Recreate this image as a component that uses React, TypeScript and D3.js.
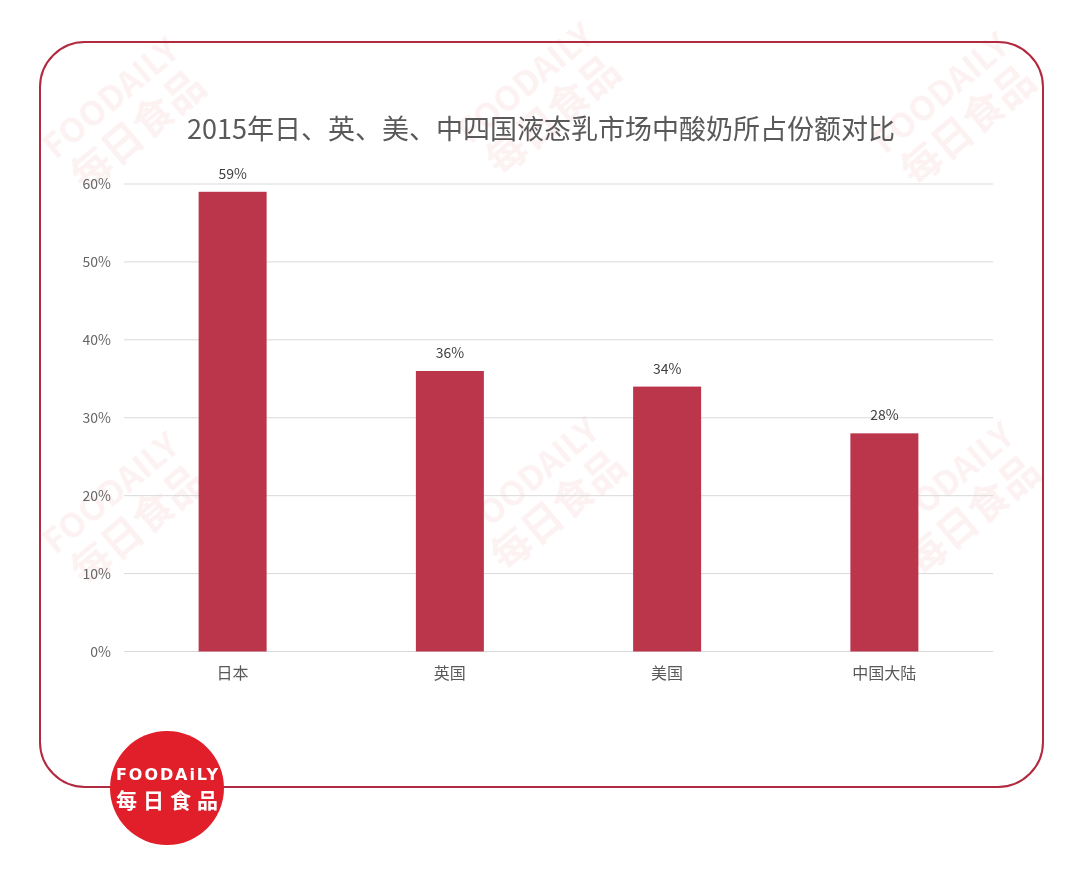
import React, { useEffect, useRef } from 'react';
import * as d3 from 'd3';

const categories = ['日本', '英国', '美国', '中国大陆'];
const shares = [59, 36, 34, 28];
const yTicks = [0, 10, 20, 30, 40, 50, 60];
const title = '2015年日、英、美、中四国液态乳市场中酸奶所占份额对比';

const watermarks = [
  [125, 115], [540, 100], [955, 110], [125, 510], [545, 495], [960, 500],
];

export default function App() {
  const svgRef = useRef<SVGSVGElement>(null);

  useEffect(() => {
    if (!svgRef.current) return;
    const svg = d3.select(svgRef.current);
    svg.selectAll('*').remove();

    const width = 1080;
    const height = 869;
    const font = '"Noto Sans CJK SC", "Liberation Sans", sans-serif';

    svg.attr('width', width).attr('height', height);
    svg.append('rect').attr('width', width).attr('height', height).attr('fill', '#fff');

    // faint watermark
    const wm = svg.append('g').attr('opacity', 0.06);
    watermarks.forEach(([x, y]) => {
      const g = wm.append('g').attr('transform', `translate(${x},${y}) rotate(-40)`);
      g.append('text').attr('text-anchor', 'middle').attr('y', -10)
        .attr('font-family', font).attr('font-size', 34).attr('font-weight', 700)
        .attr('fill', '#d8202c').text('FOODAILY');
      g.append('text').attr('text-anchor', 'middle').attr('y', 34)
        .attr('font-family', font).attr('font-size', 40).attr('font-weight', 700)
        .attr('fill', '#d8202c').text('每日食品');
    });

    // frame
    svg.append('rect')
      .attr('x', 40).attr('y', 42).attr('width', 1003).attr('height', 745)
      .attr('rx', 45).attr('ry', 45)
      .attr('fill', 'none').attr('stroke', '#b22a40').attr('stroke-width', 2);

    const margin = { top: 184, left: 124, right: 87, bottom: 218 };
    const innerW = width - margin.left - margin.right;
    const innerH = height - margin.top - margin.bottom;

    const x = d3.scaleBand().domain(categories).range([0, innerW]).padding(0);
    const y = d3.scaleLinear().domain([0, 60]).range([innerH + 0.5, 0]);
    const barW = x.bandwidth() * 0.313;

    const g = svg.append('g').attr('transform', `translate(${margin.left},${margin.top})`);

    // title
    svg.append('text')
      .attr('x', 541).attr('y', 139)
      .attr('text-anchor', 'middle')
      .attr('font-family', font).attr('font-size', 27)
      .attr('fill', '#595959')
      .text(title);

    // grid + y labels
    g.selectAll('.grid').data(yTicks).enter().append('line')
      .attr('x1', 0).attr('x2', innerW)
      .attr('y1', (d) => y(d)).attr('y2', (d) => y(d))
      .attr('stroke', '#d9d9d9').attr('stroke-width', 1);

    g.selectAll('.ylab').data(yTicks).enter().append('text')
      .attr('x', -13).attr('y', (d) => y(d) + 5)
      .attr('text-anchor', 'end')
      .attr('font-family', font).attr('font-size', 14)
      .attr('fill', '#666')
      .text((d) => `${d}%`);

    // bars
    g.selectAll('.bar').data(shares).enter().append('rect')
      .attr('x', (d, i) => (x(categories[i]) || 0) + x.bandwidth() / 2 - barW / 2)
      .attr('y', (d) => y(d))
      .attr('width', barW)
      .attr('height', (d) => y(0) - y(d))
      .attr('fill', '#bc364b');

    // value labels
    g.selectAll('.val').data(shares).enter().append('text')
      .attr('x', (d, i) => (x(categories[i]) || 0) + x.bandwidth() / 2)
      .attr('y', (d) => y(d) - 13)
      .attr('text-anchor', 'middle')
      .attr('font-family', font).attr('font-size', 14)
      .attr('fill', '#404040')
      .text((d) => `${d}%`);

    // category labels
    g.selectAll('.cat').data(categories).enter().append('text')
      .attr('x', (d) => (x(d) || 0) + x.bandwidth() / 2)
      .attr('y', innerH + 28)
      .attr('text-anchor', 'middle')
      .attr('font-family', font).attr('font-size', 16)
      .attr('fill', '#595959')
      .text((d) => d);

    // logo
    const logo = svg.append('g').attr('transform', 'translate(167,788)');
    logo.append('circle').attr('r', 57).attr('fill', '#e11f2a');
    logo.append('text').attr('text-anchor', 'middle').attr('y', -8)
      .attr('font-family', '"DejaVu Sans", sans-serif').attr('font-weight', 700)
      .attr('font-size', 16).attr('fill', '#fff').attr('textLength', 102)
      .text('FOODAiLY');
    logo.append('text').attr('text-anchor', 'middle').attr('y', 20)
      .attr('font-family', font).attr('font-weight', 700)
      .attr('font-size', 21).attr('fill', '#fff').attr('textLength', 102)
      .text('每日食品');
  }, []);

  return (
    <svg ref={svgRef} style={{ position: 'absolute', left: 0, top: 0, display: 'block' }} />
  );
}
